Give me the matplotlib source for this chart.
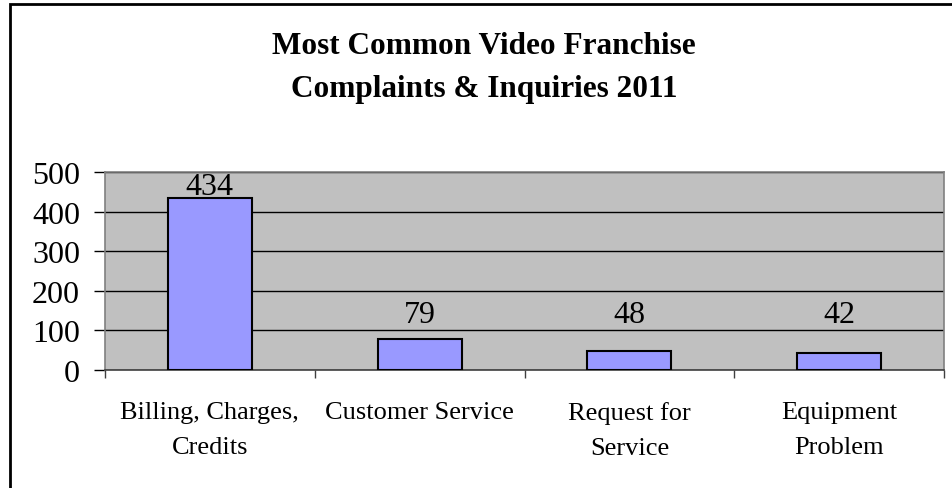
import matplotlib
matplotlib.use("Agg")
import matplotlib.pyplot as plt
from matplotlib.patches import Rectangle
import numpy as np

categories = ["Billing, Charges,\nCredits", "Customer Service", "Request for\nService", "Equipment\nProblem"]
counts = [434, 79, 48, 42]
y_ticks = [0, 100, 200, 300, 400, 500]
title = "Most Common Video Franchise\nComplaints & Inquiries 2011"

plt.rcParams["font.family"] = ["Liberation Serif", "DejaVu Serif"]

W, H = 952, 489
fig = plt.figure(figsize=(W / 100, H / 100), dpi=100)

# chart frame
fig.patches.append(Rectangle((10 / W, -0.1), 1.2, 1 - 5 / H + 0.1, transform=fig.transFigure,
                             fill=False, edgecolor="black", linewidth=2, zorder=0))

ax = fig.add_axes([105 / W, (H - 371) / H, (944 - 105) / W, (371 - 173) / H])
ax.set_facecolor("#C0C0C0")

x = np.arange(len(categories))
ax.bar(x, counts, width=0.4, color="#9999FF", edgecolor="black", linewidth=1.5, zorder=3)

# value labels sit just above tall bars, and at a common height above short ones
for xi, v in zip(x, counts):
    ax.text(xi, max(v - 7, 104), str(v), ha="center", va="bottom", fontsize=23, zorder=4)

ax.set_xlim(-0.5, len(categories) - 0.5)
ax.set_ylim(0, 500)
ax.set_yticks(y_ticks)
ax.set_yticklabels([str(t) for t in y_ticks], fontsize=23)
ax.yaxis.grid(True, color="black", linewidth=1, zorder=1)
ax.set_axisbelow(True)

ax.set_xticks(x)
ax.set_xticklabels(categories, fontsize=19, linespacing=1.8)
ax.set_xticks(np.arange(len(categories) + 1) - 0.5, minor=True)
ax.tick_params(axis="x", which="major", length=0, pad=22)
ax.tick_params(axis="x", which="minor", length=6, width=1, color="#404040", direction="out")
ax.tick_params(axis="y", length=8, width=1, color="black", pad=10)

for s in ax.spines.values():
    s.set_color("#808080")
    s.set_linewidth(1.2)
ax.spines["bottom"].set_color("#404040")

fig.text(484 / W, 1 - 68 / H, title, ha="center", va="center", fontsize=22.5,
         fontweight="bold", linespacing=1.6)

fig.savefig("out.png", dpi=100)
